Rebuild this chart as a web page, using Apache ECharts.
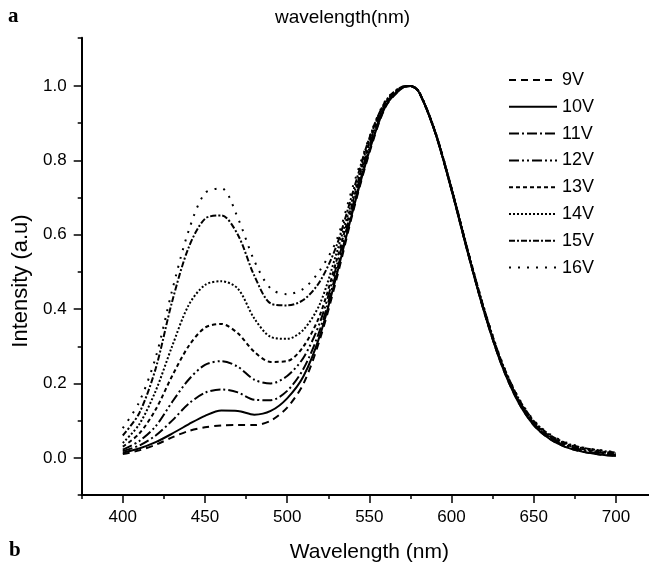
<!DOCTYPE html>
<html>
<head>
<meta charset="utf-8">
<script src="https://cdn.jsdelivr.net/npm/echarts@6/dist/echarts.min.js"></script>
<style>
  html, body { margin: 0; padding: 0; background: #fff; }
  #chart { width: 649px; height: 564px; }
</style>
</head>
<body>
<div id="chart"></div>
<script>
// spectra normalised to the 573 nm peak, one array per drive voltage
const FONT = '"Liberation Sans", Arial, sans-serif';

const wavelength = [400, 410, 420, 430, 440, 450, 460, 470, 480, 490, 500, 510, 520, 530, 540, 550, 560, 570, 575,
  580, 590, 600, 610, 620, 630, 640, 650, 660, 670, 680, 690, 700];

const i9V  = [0.010, 0.020, 0.035, 0.055, 0.072, 0.082, 0.087, 0.088, 0.088, 0.100, 0.135, 0.200, 0.320, 0.480, 0.660, 0.820, 0.945, 0.995, 1.000,
  0.985, 0.875, 0.720, 0.550, 0.390, 0.255, 0.155, 0.088, 0.050, 0.028, 0.016, 0.009, 0.005];
const i10V = [0.014, 0.025, 0.042, 0.065, 0.090, 0.113, 0.127, 0.126, 0.116, 0.126, 0.160, 0.220, 0.330, 0.490, 0.665, 0.825, 0.947, 0.995, 1.000,
  0.985, 0.875, 0.720, 0.550, 0.390, 0.255, 0.155, 0.088, 0.050, 0.028, 0.016, 0.009, 0.005];
const i11V = [0.018, 0.033, 0.060, 0.100, 0.145, 0.175, 0.184, 0.176, 0.156, 0.155, 0.180, 0.240, 0.345, 0.500, 0.670, 0.832, 0.950, 0.996, 1.000,
  0.985, 0.876, 0.722, 0.552, 0.392, 0.258, 0.158, 0.091, 0.053, 0.031, 0.019, 0.012, 0.008];
const i12V = [0.022, 0.045, 0.085, 0.150, 0.210, 0.250, 0.260, 0.245, 0.210, 0.200, 0.220, 0.270, 0.365, 0.515, 0.680, 0.840, 0.953, 0.996, 1.000,
  0.985, 0.876, 0.722, 0.552, 0.393, 0.259, 0.160, 0.093, 0.055, 0.033, 0.021, 0.014, 0.009];
const i13V = [0.030, 0.065, 0.130, 0.220, 0.300, 0.350, 0.360, 0.335, 0.285, 0.258, 0.260, 0.300, 0.385, 0.530, 0.690, 0.848, 0.955, 0.997, 1.000,
  0.986, 0.877, 0.723, 0.553, 0.394, 0.260, 0.162, 0.095, 0.057, 0.035, 0.023, 0.016, 0.011];
const i14V = [0.040, 0.090, 0.180, 0.300, 0.410, 0.465, 0.475, 0.455, 0.375, 0.325, 0.320, 0.345, 0.415, 0.550, 0.700, 0.855, 0.958, 0.997, 1.000,
  0.986, 0.878, 0.724, 0.555, 0.396, 0.262, 0.164, 0.097, 0.059, 0.037, 0.025, 0.018, 0.012];
const i15V = [0.060, 0.120, 0.240, 0.420, 0.565, 0.643, 0.652, 0.600, 0.490, 0.415, 0.410, 0.425, 0.475, 0.570, 0.715, 0.860, 0.960, 0.998, 1.000,
  0.986, 0.878, 0.725, 0.556, 0.398, 0.264, 0.166, 0.099, 0.061, 0.039, 0.027, 0.020, 0.014];
const i16V = [0.080, 0.150, 0.270, 0.450, 0.610, 0.712, 0.725, 0.645, 0.530, 0.455, 0.440, 0.455, 0.505, 0.585, 0.730, 0.862, 0.962, 0.998, 1.000,
  0.987, 0.879, 0.726, 0.557, 0.400, 0.266, 0.168, 0.101, 0.063, 0.041, 0.028, 0.021, 0.015];

const seriesNames = ['9V', '10V', '11V', '12V', '13V', '14V', '15V', '16V'];
const seriesValues = [i9V, i10V, i11V, i12V, i13V, i14V, i15V, i16V];

const xMajor = [400, 450, 500, 550, 600, 650, 700];
const xMinor = [375, 425, 475, 525, 575, 625, 675, 725];
const yMajor = [0, 0.2, 0.4, 0.6, 0.8, 1.0];
const yMinor = [-0.1, 0.1, 0.3, 0.5, 0.7, 0.9, 1.13];

// line dash per series (same order as seriesNames)
const DASHES = [
  [7, 5],
  'solid',
  [10, 3, 2, 3],
  [10, 3, 2, 3, 2, 3],
  [4, 3],
  [2, 2],
  [6, 2, 2, 2],
  [2, 7],
];

const chart = echarts.init(document.getElementById('chart'), null, { renderer: 'canvas' });

const black = '#000';
const minorAxis = (extra) => Object.assign({
  type: 'value',
  axisLine: { onZero: false, lineStyle: { color: black, width: 2 } },
  axisTick: { length: 4, lineStyle: { color: black, width: 1.5 } },
  axisLabel: { show: false },
  splitLine: { show: false },
}, extra);

const series = seriesNames.map((name, k) => ({
  type: 'line',
  name,
  data: wavelength.map((w, i) => [w, seriesValues[k][i]]),
  symbol: 'none',
  smooth: 0.3,
  lineStyle: { color: black, width: 2, type: DASHES[k] },
  xAxisIndex: 0,
  yAxisIndex: 0,
}));

chart.setOption({
  animation: false,
  backgroundColor: '#fff',
  grid: { left: 81.7, top: 37.7, right: -8, bottom: 69, outerBoundsMode: 'none' },
  xAxis: [
    minorAxis({ min: 375, max: 725, position: 'bottom',
      axisTick: { length: 4, customValues: xMinor, lineStyle: { color: black, width: 1.5 } } }),
    {
      type: 'value', min: 375, max: 725, position: 'bottom',
      axisLine: { show: false, onZero: false },
      axisTick: { length: 8, customValues: xMajor, lineStyle: { color: black, width: 1.5 } },
      axisLabel: { customValues: xMajor, color: black, fontSize: 17, fontFamily: FONT, margin: 14 },
      splitLine: { show: false },
      name: 'Wavelength (nm)',
      nameLocation: 'middle',
      nameGap: 47,
      nameTextStyle: { color: black, fontSize: 21, fontFamily: FONT },
    },
  ],
  yAxis: [
    minorAxis({ min: -0.1, max: 1.13, position: 'left',
      axisTick: { length: 4, customValues: yMinor, lineStyle: { color: black, width: 1.5 } } }),
    {
      type: 'value', min: -0.1, max: 1.13, position: 'left',
      axisLine: { show: false, onZero: false },
      axisTick: { length: 8, customValues: yMajor, lineStyle: { color: black, width: 1.5 } },
      axisLabel: { customValues: yMajor, color: black, fontSize: 17, fontFamily: FONT, margin: 15,
        formatter: v => v.toFixed(1) },
      splitLine: { show: false },
    },
  ],
  legend: {
    orient: 'vertical',
    left: 503,
    top: 66,
    itemWidth: 48,
    itemHeight: 14,
    itemGap: 8.8,
    itemStyle: { opacity: 0 },
    textStyle: { color: black, fontSize: 18, lineHeight: 18, fontFamily: FONT },
    data: seriesNames,
  },
  graphic: [
    { type: 'text', x: 342.5, y: 18,
      style: { text: 'wavelength(nm)', font: '19px ' + FONT, fill: black, align: 'center', verticalAlign: 'middle' } },
    { type: 'text', x: 21, y: 281, rotation: Math.PI / 2,
      style: { text: 'Intensity (a.u)', font: '22px ' + FONT, fill: black, align: 'center', verticalAlign: 'middle' } },
    { type: 'text', x: 8, y: 17,
      style: { text: 'a', font: 'bold 21px "Liberation Serif", serif', fill: black, align: 'left', verticalAlign: 'middle' } },
    { type: 'text', x: 9, y: 551,
      style: { text: 'b', font: 'bold 21px "Liberation Serif", serif', fill: black, align: 'left', verticalAlign: 'middle' } },
  ],
  series,
});
</script>
</body>
</html>
